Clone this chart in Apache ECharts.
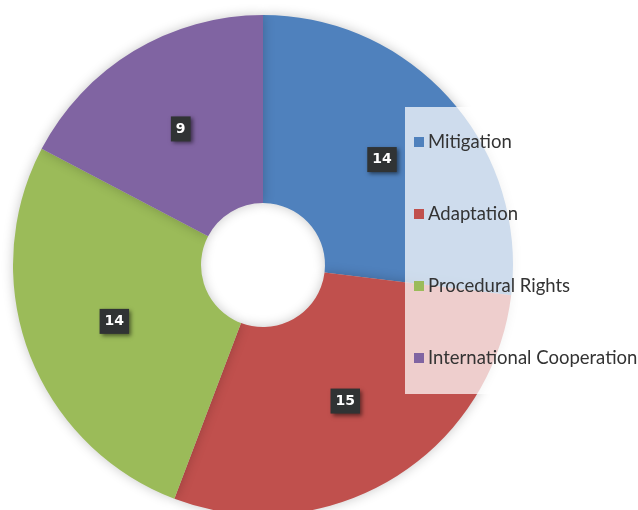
<!DOCTYPE html>
<html>
<head>
<meta charset="utf-8">
<script src="https://cdn.jsdelivr.net/npm/echarts@6/dist/echarts.min.js"></script>
<style>
  html, body { margin: 0; padding: 0; background: #fff; }
  #chart { width: 638px; height: 510px; }
</style>
</head>
<body>
<div id="chart"></div>
<script>
var categories = ["Mitigation", "Adaptation", "Procedural Rights", "International Cooperation"];
var counts = [14, 15, 14, 9];
var colors = ["#4f81bd", "#c0504d", "#9bbb59", "#8064a2"];

var pieData = categories.map(function (name, i) {
    return {
        value: counts[i],
        name: name,
        itemStyle: { color: colors[i] }
    };
});

var option = {
    animation: false,
    graphic: [{
        type: "rect",
        z: 3,
        shape: { x: 405, y: 107, width: 240, height: 287 },
        style: { fill: "rgba(255,255,255,0.72)" }
    }],
    legend: {
        orient: "vertical",
        left: 414,
        top: 131,
        padding: 0,
        itemWidth: 10,
        itemHeight: 10,
        itemGap: 50,
        icon: "rect",
        z: 5,
        textStyle: {
            fontFamily: "Lato",
            fontSize: 18.5,
            lineHeight: 22,
            color: "#333",
            padding: [0, 0, 0, -1]
        },
        data: categories
    },
    series: [{
        type: "pie",
        radius: [62, 250],
        center: [263, 265],
        startAngle: 90,
        avoidLabelOverlap: false,
        itemStyle: {
            shadowBlur: 12,
            shadowColor: "rgba(0,0,0,0.22)"
        },
        label: {
            show: true,
            position: "inside",
            formatter: "{c}",
            color: "#fff",
            fontFamily: "DejaVu Sans",
            fontWeight: "bold",
            fontSize: 14,
            backgroundColor: "#303334",
            padding: [6, 5, 5, 5],
            shadowBlur: 4,
            shadowColor: "rgba(0,0,0,0.5)",
            shadowOffsetX: 2,
            shadowOffsetY: 2
        },
        labelLine: { show: false },
        emphasis: { disabled: true },
        data: pieData
    }]
};

echarts.init(document.getElementById("chart")).setOption(option);
</script>
</body>
</html>
